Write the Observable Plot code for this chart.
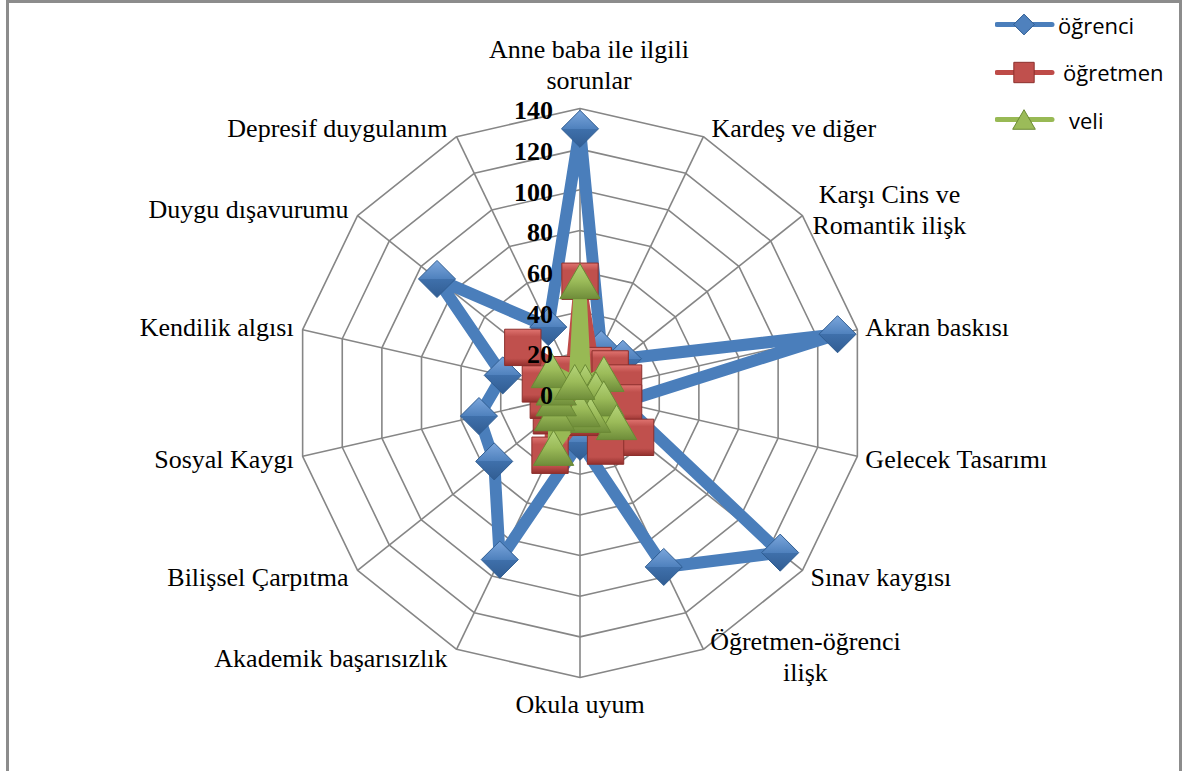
<!DOCTYPE html>
<html><head><meta charset="utf-8">
<script src="https://cdn.jsdelivr.net/npm/d3@7"></script>
<script src="https://cdn.jsdelivr.net/npm/@observablehq/plot@0.6"></script>
<style>
html,body{margin:0;padding:0;background:#fff;}
#wrap{position:relative;width:1182px;height:771px;overflow:hidden;background:#fff;}
#chart{position:absolute;left:0;top:0;}
#frame{position:absolute;left:6px;top:0;width:1176px;height:800px;border:3px solid #8c8c8c;box-sizing:border-box;pointer-events:none;}
#legend{position:absolute;left:995px;top:1px;font-family:"Open Sans",sans-serif;font-size:22px;color:#000;}
.row{display:flex;align-items:center;height:47.5px;}
.row svg{flex:none;}
</style></head><body>
<div id="wrap"><div id="chart"></div><div id="legend"></div><div id="frame"></div></div>
<script>
// ---- data ----
const categories = ["Anne baba ile ilgili\nsorunlar", "Kardeş ve diğer", "Karşı Cins ve\nRomantik ilişk", "Akran baskısı", "Gelecek Tasarımı", "Sınav kaygısı", "Öğretmen-öğrenci\nilişk", "Okula uyum", "Akademik başarısızlık", "Bilişsel Çarpıtma", "Sosyal Kaygı", "Kendilik algısı", "Duygu dışavurumu", "Depresif duygulanım"];
const ogrenci  = [130, 24, 27, 130, 21, 126, 95, 24, 91, 54, 51, 39, 90, 36];
const ogretmen = [55, 15, 19, 22, 22, 35, 29, 12, 34, 18, 16, 20, 36, 10];
const veli     = [55, 6, 15, 8, 12, 23, 12, 8, 30, 16, 12, 12, 18, 6];
const seriesNames = ["öğrenci", "öğretmen", "veli"];
const tickValues = [0, 20, 40, 60, 80, 100, 120, 140];

// ---- geometry ----
const W = 1182, H = 771;
const cx = 579.5, cy = 392.5, R = 284.5, vmax = 140;
const k = R / vmax;
const N = categories.length;
const ang = i => i * 2 * Math.PI / N;
const pt = (i, v) => ({x: v * Math.sin(ang(i)), y: v * Math.cos(ang(i))});

const seriesValues = [ogrenci, ogretmen, veli];
const rows = seriesNames.flatMap((s, si) => seriesValues[si].map((v, i) => ({series: s, i, v, ...pt(i, v)})));
const grid = tickValues.filter(t => t > 0).flatMap(t => categories.map((c, i) => ({ring: t, ...pt(i, t)})));
const spokes = categories.map((c, i) => ({i, ...pt(i, vmax)}));

const styles = {
  "öğrenci":  {line: "#4a7ebb", grad: "gBlue",  symbol: "diamond2", r: 16.7, stroke: "#2f5d92", dy: 0},
  "öğretmen": {line: "#be4b48", grad: "gRed",   symbol: "square",   r: 20.5, stroke: "#8c2f2c", dy: 0},
  "veli":     {line: "#98b954", grad: "gGreen", symbol: "triangle", r: 15,   stroke: "#6b8a35", dy: 5.8}
};

const defs = () => {
  const svg = d3.create("svg:g");
  const d = svg.append("defs");
  const mk = (id, stops) => {
    const g = d.append("linearGradient").attr("id", id).attr("x1", 0).attr("y1", 0).attr("x2", 0).attr("y2", 1);
    stops.forEach(([o, c]) => g.append("stop").attr("offset", o).attr("stop-color", c));
  };
  mk("gBlue", [[0, "#7ba6dc"], [0.5, "#4f81bd"], [0.5, "#3f70ab"], [1, "#315d93"]]);
  mk("gRed", [[0, "#e07470"], [0.2, "#c0504d"], [0.8, "#c0504d"], [1, "#93302d"]]);
  mk("gGreen", [[0, "#b5d57a"], [0.5, "#9bbb59"], [1, "#6f8d3a"]]);
  return svg.node();
};

const labelMarks = categories.map((c, i) => {
  const a = ang(i), v = pt(i, vmax);
  const multi = c.includes("\n");
  let o = {textAnchor: "start", dx: 8, dy: -Math.cos(a) * 10 - 1};
  if (i === 0) o = {textAnchor: "middle", dx: 9, dy: -45};
  else if (i === N / 2) o = {textAnchor: "middle", dx: 0, dy: 26};
  else if (multi) o = {textAnchor: "middle", dx: i < N / 4 ? 87 : 102, dy: i < N / 4 ? -7 : 6};
  else if (i > N / 2) o = {textAnchor: "end", dx: -9, dy: -Math.cos(a) * 10 - 1};
  return Plot.text([{...v, label: c}], {x: "x", y: "y", text: "label", lineAnchor: "middle", lineHeight: 1.2,
    fontFamily: "Liberation Serif, Times New Roman, serif", fontSize: 26, fill: "#000", ...o});
});

const seriesMarks = seriesNames.flatMap(s => {
  const st = styles[s];
  const data = rows.filter(d => d.series === s);
  return [
    Plot.line(data, {x: "x", y: "y", curve: "linear-closed", stroke: st.line, strokeWidth: 12, strokeLinejoin: "round"}),
    Plot.dot(data, {x: "x", y: "y", symbol: st.symbol, r: st.r, fill: `url(#${st.grad})`, stroke: st.stroke, strokeWidth: 1, dy: st.dy})
  ];
});

const chart = Plot.plot({
  width: W, height: H,
  margin: 0,
  x: {domain: [-cx / k, (W - cx) / k], range: [0, W], axis: null},
  y: {domain: [-(H - cy) / k, cy / k], range: [H, 0], axis: null},
  style: {background: "transparent"},
  marks: [
    defs,
    Plot.line(grid, {x: "x", y: "y", z: "ring", curve: "linear-closed", stroke: "#868686", strokeWidth: 1.6}),
    Plot.link(spokes, {x1: () => 0, y1: () => 0, x2: "x", y2: "y", stroke: "#868686", strokeWidth: 1.6}),
    ...seriesMarks,
    Plot.text(tickValues, {x: () => 0, y: d => d, text: d => String(d), textAnchor: "end", dx: -27, dy: 2.5,
      fontWeight: "bold", fontSize: 26, fontFamily: "Liberation Serif, Times New Roman, serif", fill: "#000"}),
    ...labelMarks
  ]
});
document.getElementById("chart").appendChild(chart);

// ---- legend ----
const legend = d3.select("#legend");
const textPad = [3, 8, 14];
seriesNames.forEach((s, si) => {
  const st = styles[s];
  const row = legend.append("div").attr("class", "row");
  const sv = row.append("svg").attr("width", 60).attr("height", 47);
  sv.append("line").attr("x1", 2).attr("x2", 57).attr("y1", 23.5).attr("y2", 23.5)
    .attr("stroke", st.line).attr("stroke-width", 5).attr("stroke-linecap", "round");
  const sym = {diamond2: d3.symbolDiamond2, square: d3.symbolSquare, triangle: d3.symbolTriangle}[st.symbol];
  const rr = st.r * 0.56;
  const colors = {"öğrenci": "#4f81bd", "öğretmen": "#c0504d", "veli": "#9bbb59"};
  sv.append("path").attr("d", d3.symbol(sym, Math.PI * rr * rr)())
    .attr("transform", `translate(29,${23.5 + st.dy * 0.56})`)
    .attr("fill", colors[s]).attr("stroke", st.stroke).attr("stroke-width", 1);
  row.append("span").style("margin-left", textPad[si] + "px").text(s);
});
</script>
</body></html>
